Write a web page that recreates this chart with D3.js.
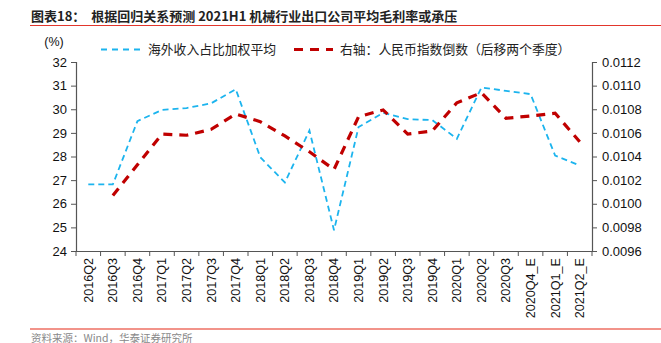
<!DOCTYPE html>
<html><head><meta charset="utf-8">
<script src="https://cdn.jsdelivr.net/npm/d3@7"></script>
<style>
html,body{margin:0;padding:0;background:#fff;overflow:hidden}
svg{display:block}
</style></head>
<body>
<script>
const categories = ["2016Q2","2016Q3","2016Q4","2017Q1","2017Q2","2017Q3","2017Q4","2018Q1","2018Q2","2018Q3","2018Q4","2019Q1","2019Q2","2019Q3","2019Q4","2020Q1","2020Q2","2020Q3","2020Q4_E","2021Q1_E","2021Q2_E"];
const overseasShare = [26.82,26.82,29.5,29.97,30.05,30.25,30.85,27.97,26.9,29.1,24.88,29.25,29.85,29.58,29.54,28.75,30.92,30.78,30.64,28.04,27.62];
const rmbIndexInverse = [null,0.01007,0.01033,0.01059,0.01058,0.01063,0.01076,0.010695,0.010574,0.01044,0.01029,0.010737,0.010794,0.01059,0.010616,0.010855,0.01094,0.010723,0.010743,0.010766,0.010525];
const leftTicks = [24,25,26,27,28,29,30,31,32];
const rightTicks = [0.0096,0.0098,0.0100,0.0102,0.0104,0.0106,0.0108,0.0110,0.0112];
const titleText = "图表18：  根据回归关系预测 2021H1 机械行业出口公司平均毛利率或承压";
const legendBlue = "海外收入占比加权平均";
const legendRed = "右轴：人民币指数倒数（后移两个季度）";
const sourceText = "资料来源：Wind，华泰证券研究所";

(function(){
const W = 661, H = 343;
const svg = d3.select("body").append("svg").attr("width", W).attr("height", H);
const latin = "'Liberation Sans', Arial, sans-serif";
const cjk = "'Noto Sans CJK SC', sans-serif";

svg.append("text").attr("x", 31).attr("y", 21).attr("font-family", cjk).attr("font-weight", "bold")
  .attr("font-size", 13).attr("fill", "#222").attr("xml:space","preserve").text(titleText);
svg.append("line").attr("x1", 30).attr("x2", 661).attr("y1", 25.5).attr("y2", 25.5)
  .attr("stroke", "#e2362c").attr("stroke-width", 1.2);

svg.append("line").attr("x1", 30).attr("x2", 661).attr("y1", 329).attr("y2", 329)
  .attr("stroke", "#f2938a").attr("stroke-width", 2);
svg.append("text").attr("x", 31).attr("y", 341.5).attr("font-family", cjk)
  .attr("font-size", 10.5).attr("fill", "#888").text(sourceText);

const mL = 76, mR = 592, mT = 62, mB = 251;
const x = d3.scaleBand().domain(categories).range([mL, mR]).padding(0);
const yL = d3.scaleLinear().domain([24, 32]).range([mB, mT]);
const yR = d3.scaleLinear().domain([0.0096, 0.0112]).range([mB, mT]);

const gL = svg.append("g").attr("transform", `translate(${mL},0)`)
  .call(d3.axisLeft(yL).tickValues(leftTicks).tickSize(5).tickPadding(4).tickFormat(d3.format("d")));
gL.selectAll("text").attr("font-family", latin).attr("font-size", 13).attr("fill", "#111");
const gR = svg.append("g").attr("transform", `translate(${mR},0)`)
  .call(d3.axisRight(yR).tickValues(rightTicks).tickSize(5).tickPadding(5).tickFormat(d3.format(".4f")));
gR.selectAll("text").attr("font-family", latin).attr("font-size", 13).attr("fill", "#111");
const gB = svg.append("g").attr("transform", `translate(0,${mB})`)
  .call(d3.axisBottom(x).tickSize(0).tickPadding(0));
gB.selectAll("text").attr("font-family", latin).attr("font-size", 12.6).attr("fill", "#111")
  .attr("transform", "rotate(-90)").attr("text-anchor", "end").attr("dy", "0.35em")
  .attr("x", -7).attr("y", 0);
const edges = categories.map(c => x(c)).concat([x(categories[categories.length-1]) + x.bandwidth()]);
gB.selectAll(".edge").data(edges).enter().append("line").attr("class","edge")
  .attr("x1", d => d).attr("x2", d => d).attr("y1", 0).attr("y2", 5).attr("stroke", "#555");
[gL, gR, gB].forEach(g => { g.select(".domain").attr("stroke", "#555").attr("stroke-width", 1.2); g.selectAll(".tick line").attr("stroke", "#555"); });

svg.append("text").attr("x", 54).attr("y", 46).attr("text-anchor","middle").attr("font-family", latin)
  .attr("font-size", 12.5).attr("fill", "#111").text("(%)");

const cx = c => x(c) + x.bandwidth() / 2;
const blueLine = d3.line().x((d, i) => cx(categories[i])).y(d => yL(d));
svg.append("path").datum(overseasShare).attr("d", blueLine).attr("fill", "none")
  .attr("stroke", "#1cb4ee").attr("stroke-width", 1.8).attr("stroke-dasharray", "6,4");
const redLine = d3.line().defined(d => d != null).x((d, i) => cx(categories[i])).y(d => yR(d));
svg.append("path").datum(rmbIndexInverse).attr("d", redLine).attr("fill", "none")
  .attr("stroke", "#c00000").attr("stroke-width", 3.2).attr("stroke-dasharray", "9,7");

svg.append("line").attr("x1", 101).attr("x2", 142).attr("y1", 49.5).attr("y2", 49.5)
  .attr("stroke", "#1cb4ee").attr("stroke-width", 1.8).attr("stroke-dasharray", "6,5");
svg.append("text").attr("x", 148).attr("y", 54).attr("font-family", cjk).attr("font-size", 12.8)
  .attr("fill", "#222").text(legendBlue);
svg.append("line").attr("x1", 294).attr("x2", 333).attr("y1", 49.5).attr("y2", 49.5)
  .attr("stroke", "#c00000").attr("stroke-width", 3.2).attr("stroke-dasharray", "9,7");
svg.append("text").attr("x", 340).attr("y", 54).attr("font-family", cjk).attr("font-size", 12.8)
  .attr("fill", "#222").text(legendRed);
})();
</script>
</body></html>
